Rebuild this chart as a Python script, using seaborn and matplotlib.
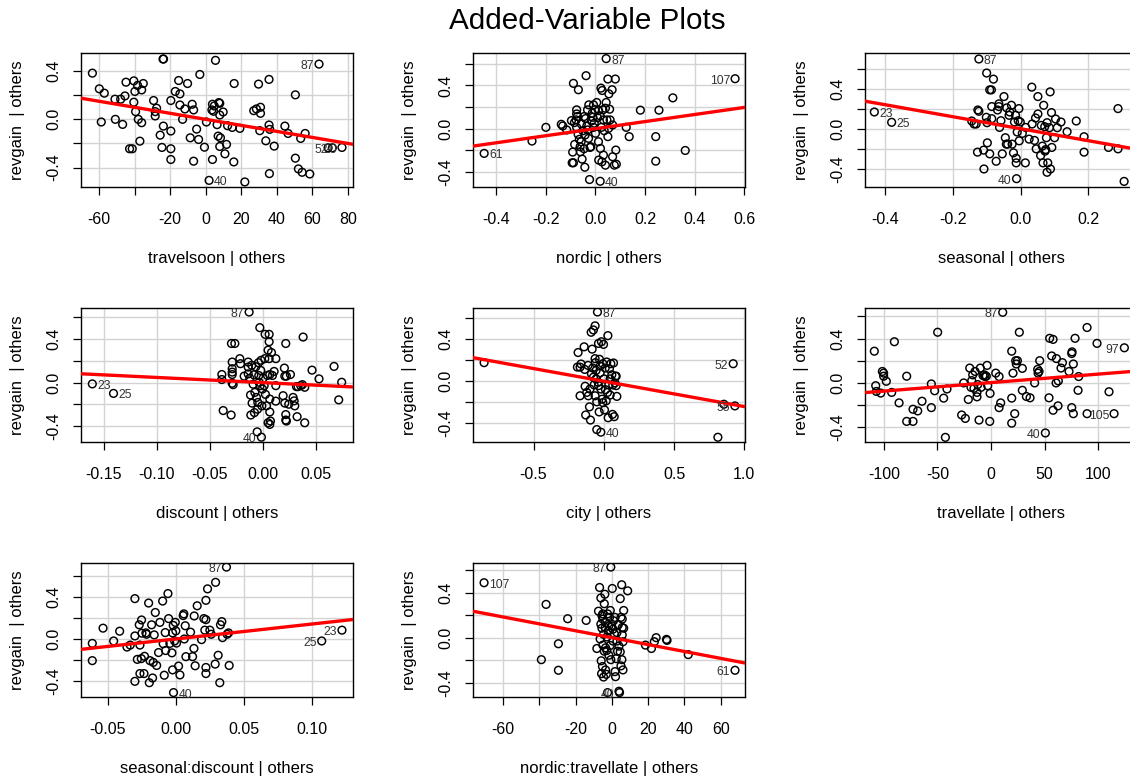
import matplotlib
matplotlib.use("Agg")
import matplotlib.pyplot as plt
import seaborn as sns
import pandas as pd
import numpy as np

# ---- residual pairs (x | others, revgain | others); labelled cases come first ----
travelsoon_ids = ["87", "40", "52", "20"]
travelsoon_pts = [
    (63.7, 0.458), (1.9, -0.506), (71.2, -0.236), (76.6, -0.233),
    (-63.7, 0.383), (-59.8, 0.253), (-57.0, 0.217), (-58.7, -0.022), (-51.0, 0.167), (-50.8, 0.0), (-47.8, 0.167), (-46.7, -0.042), (-45.4, 0.194), (-44.8, 0.308),
    (-42.8, -0.244), (-41.3, -0.244), (-40.4, 0.319), (-40.4, 0.142), (-39.8, 0.231), (-39.4, 0.064), (-38.3, 0.281), (-37.9, 0.0), (-37.0, -0.181), (-36.0, 0.244),
    (-36.0, -0.028), (-35.1, 0.297), (-29.3, 0.156), (-28.4, 0.064), (-28.4, 0.028), (-27.6, 0.092), (-25.6, -0.131), (-24.6, -0.233), (-23.8, -0.056), (-24.0, 0.5),
    (-23.7, 0.5), (-19.6, 0.156), (-19.6, -0.097), (-19.6, -0.244), (-19.6, -0.333), (-17.1, 0.231), (-15.2, 0.322), (-14.5, 0.211), (-14.5, 0.119), (-13.0, 0.0),
    (-11.7, 0.086), (-10.2, 0.297), (-8.7, -0.153), (-7.6, 0.125), (-6.8, 0.078), (-6.8, -0.347), (-5.1, -0.081), (-4.0, -0.167), (-3.3, 0.372), (-0.7, -0.231),
    (0.4, -0.022), (3.8, 0.125), (3.5, 0.078), (3.8, -0.333), (4.4, 0.067), (4.8, 0.111), (5.5, 0.489), (6.4, -0.044), (7.0, -0.139), (7.4, 0.139),
    (7.9, 0.133), (7.9, 0.036), (8.3, -0.153), (7.9, -0.225), (9.8, 0.061), (10.8, -0.286), (11.7, -0.208), (12.3, -0.053), (14.9, -0.067), (15.8, -0.353),
    (16.0, 0.297), (19.2, -0.075), (22.0, -0.519), (27.0, 0.072), (28.5, 0.086), (29.7, 0.292), (30.4, -0.094), (30.8, 0.1), (30.8, 0.05), (33.8, -0.178),
    (35.6, -0.047), (35.6, 0.331), (36.0, -0.083), (35.8, -0.45), (38.5, -0.222), (44.5, -0.056), (46.3, -0.117), (50.4, 0.203), (50.4, -0.322), (52.1, -0.411),
    (53.4, -0.158), (54.2, -0.439), (55.9, -0.117), (58.5, -0.453), (68.8, -0.236),
]
travelsoon_slope = -0.0025

nordic_ids = ["87", "107", "61", "40"]
nordic_pts = [
    (0.043, 0.648), (0.563, 0.462), (-0.449, -0.229), (0.019, -0.487),
    (-0.256, -0.115), (-0.200, 0.012), (-0.138, 0.040), (-0.132, 0.025), (-0.116, -0.012), (-0.097, 0.074), (-0.089, 0.419), (-0.069, 0.360), (-0.092, -0.217), (-0.094, -0.316),
    (-0.089, -0.316), (-0.084, -0.146), (-0.076, 0.174), (-0.076, 0.136), (-0.078, 0.081), (-0.076, 0.012), (-0.070, -0.053), (-0.065, -0.099), (-0.062, -0.167), (-0.061, -0.214),
    (-0.054, -0.282), (-0.043, -0.357), (-0.046, -0.186), (-0.051, -0.019), (-0.046, 0.112), (-0.038, 0.490), (-0.035, 0.025), (-0.032, 0.174), (-0.028, -0.090), (-0.024, -0.471),
    (-0.022, -0.174), (-0.019, -0.167), (-0.016, 0.071), (-0.013, 0.143), (-0.008, 0.220), (-0.005, 0.050), (0.0, -0.043), (0.005, 0.242), (0.008, 0.102), (0.012, 0.167),
    (0.012, -0.121), (0.013, -0.291), (0.020, -0.183), (0.022, 0.375), (0.026, -0.307), (0.027, 0.353), (0.030, 0.174), (0.032, -0.245), (0.035, -0.019), (0.040, -0.338),
    (0.043, 0.242), (0.046, 0.081), (0.050, 0.459), (0.050, -0.074), (0.053, 0.003), (0.054, 0.322), (0.057, 0.180), (0.067, 0.360), (0.069, 0.034), (0.069, -0.260),
    (0.076, -0.338), (0.080, 0.459), (0.082, -0.198), (0.084, -0.329), (0.124, 0.012), (0.136, -0.074), (0.181, 0.171), (0.243, -0.074), (0.243, -0.301), (0.256, 0.171),
    (0.312, 0.285), (0.362, -0.202),
    (-0.085, 0.056), (-0.073, 0.112), (-0.057, 0.043), (-0.040, 0.093), (-0.027, 0.220), (-0.011, 0.105), (-0.003, 0.174), (0.019, 0.118), (0.024, 0.012), (0.032, 0.081),
    (0.040, 0.189), (0.059, 0.081), (-0.042, -0.059), (-0.032, -0.012), (-0.058, -0.121), (-0.008, 0.012),
]
nordic_slope = 0.327

seasonal_ids = ["87", "23", "25", "40"]
seasonal_pts = [
    (-0.123, 0.696), (-0.431, 0.167), (-0.380, 0.064), (-0.012, -0.499),
    (-0.144, 0.077), (-0.137, 0.047), (-0.131, 0.047), (-0.126, 0.187), (-0.123, 0.174), (-0.127, -0.234), (-0.109, -0.214), (-0.108, -0.402), (-0.100, 0.556), (-0.101, 0.114),
    (-0.099, 0.060), (-0.098, -0.141), (-0.091, -0.251), (-0.091, 0.388), (-0.086, 0.388), (-0.085, 0.100), (-0.085, 0.221), (-0.080, 0.495), (-0.072, -0.325), (-0.068, 0.187),
    (-0.064, 0.221), (-0.064, 0.248), (-0.062, 0.013), (-0.058, 0.080), (-0.054, -0.251), (-0.049, 0.321), (-0.045, -0.090), (-0.042, -0.154), (-0.041, 0.208), (-0.038, -0.154),
    (-0.034, 0.134), (-0.032, 0.167), (-0.027, 0.234), (-0.025, -0.154), (-0.021, -0.241), (-0.018, 0.067), (-0.015, 0.134), (-0.013, -0.295), (-0.013, -0.341), (-0.010, -0.033),
    (-0.007, 0.080), (-0.005, 0.201), (-0.004, -0.121), (-0.001, 0.067), (0.005, -0.047), (0.014, -0.341), (0.015, 0.013), (0.025, -0.104), (0.034, 0.047), (0.033, 0.415),
    (0.041, -0.117), (0.044, 0.107), (0.046, -0.201), (0.051, 0.147), (0.051, 0.321), (0.059, -0.268), (0.061, 0.033), (0.064, -0.174), (0.066, -0.341), (0.068, 0.234),
    (0.071, 0.020), (0.072, -0.224), (0.074, -0.208), (0.076, -0.090), (0.078, 0.060), (0.078, -0.435), (0.080, -0.341), (0.085, 0.010), (0.088, -0.402), (0.087, 0.368),
    (0.092, -0.187), (0.091, 0.161), (0.100, -0.090), (0.103, 0.097), (0.108, 0.010), (0.119, 0.067), (0.137, -0.030), (0.164, 0.077), (0.187, -0.080), (0.187, -0.234),
    (0.259, -0.187), (0.287, 0.201), (0.287, -0.201), (0.305, -0.526),
]
seasonal_slope = -0.60

discount_ids = ["87", "23", "25", "40"]
discount_pts = [
    (-0.0129, 0.646), (-0.161, -0.012), (-0.141, -0.099), (-0.0013, -0.500),
    (-0.0387, 0.074), (-0.0387, 0.028), (-0.0374, -0.256), (-0.0299, -0.297), (-0.0296, 0.358), (-0.0264, 0.358), (-0.0289, 0.188), (-0.0289, 0.127), (-0.0289, 0.096), (-0.0289, 0.074),
    (-0.0289, -0.006), (-0.028, -0.019), (-0.0217, 0.219), (-0.0211, 0.173), (-0.0176, 0.059), (-0.0138, 0.188), (-0.0138, 0.142), (-0.0138, 0.080), (-0.0123, 0.040), (-0.0116, -0.114),
    (-0.0113, -0.297), (-0.0104, 0.158), (-0.0101, -0.188), (-0.0091, -0.015), (-0.0085, 0.071), (-0.0079, -0.275), (-0.0075, -0.090), (-0.0066, 0.145), (-0.0060, -0.136), (-0.0053, -0.451),
    (-0.0050, -0.244), (-0.0047, -0.182), (-0.0041, 0.182), (-0.0038, 0.065), (-0.0035, 0.003), (-0.0028, 0.503), (-0.0025, -0.028), (-0.0019, 0.111), (-0.0016, 0.204), (-0.0009, -0.213),
    (-0.0003, -0.059), (0.0003, 0.040), (0.0013, -0.028), (0.0019, 0.219), (0.0022, 0.442), (0.0025, -0.108), (0.0035, -0.213), (0.0044, 0.065), (0.005, 0.297), (0.005, -0.368),
    (0.006, 0.442), (0.006, 0.374), (0.006, 0.219), (0.0066, 0.074), (0.0066, -0.151), (0.0066, -0.269), (0.0066, -0.383), (0.0072, -0.352), (0.0082, 0.275), (0.0091, 0.065),
    (0.0107, 0.102), (0.0123, 0.219), (0.0123, -0.028), (0.0123, -0.170), (0.0192, -0.120), (0.0204, 0.133), (0.0208, 0.059), (0.0208, -0.188), (0.0217, 0.358), (0.0217, -0.293),
    (0.0217, -0.343), (0.0223, -0.352), (0.0223, 0.059), (0.0245, -0.198), (0.0261, 0.074), (0.0286, -0.136), (0.0296, -0.167), (0.0302, -0.213), (0.0318, -0.037), (0.0324, -0.312),
    (0.0333, -0.037), (0.0358, -0.028), (0.0374, -0.019), (0.0381, 0.417), (0.0396, -0.368), (0.0396, -0.043), (0.0465, 0.114), (0.0531, 0.034), (0.0673, 0.148), (0.0717, -0.158),
    (0.0745, 0.003),
]
discount_slope = -0.47

city_ids = ["87", "52", "55", "40"]
city_pts = [
    (-0.045, 0.656), (0.921, 0.166), (0.933, -0.234), (-0.021, -0.483),
    (-0.852, 0.176), (0.855, -0.218), (0.812, -0.531),
    (-0.183, 0.272), (-0.169, -0.138), (-0.169, 0.134), (-0.162, 0.163), (-0.140, 0.326), (-0.136, 0.112), (-0.133, -0.048), (-0.129, -0.320), (-0.121, -0.106), (-0.112, 0.150),
    (-0.110, -0.138), (-0.102, -0.243), (-0.095, -0.368), (-0.090, 0.464), (-0.083, 0.304), (-0.079, 0.125), (-0.074, 0.486), (-0.074, 0.038), (-0.069, -0.035), (-0.062, 0.525),
    (-0.062, 0.214), (-0.062, -0.138), (-0.055, 0.102), (-0.050, -0.458), (-0.050, -0.195), (-0.040, -0.010), (-0.038, 0.358), (-0.033, -0.291), (-0.031, 0.208), (-0.026, 0.080),
    (-0.021, -0.074), (-0.017, 0.374), (-0.012, -0.170), (-0.007, 0.166), (-0.002, 0.349), (0.002, 0.022), (0.005, -0.272), (0.010, 0.125), (0.017, -0.186), (0.021, 0.182),
    (0.029, 0.432), (0.031, -0.346), (0.036, -0.035), (0.040, 0.118), (0.045, -0.131), (0.050, 0.166), (0.057, 0.061), (0.062, -0.314), (0.064, -0.035), (0.069, 0.173),
    (0.074, -0.336), (0.079, -0.016), (0.083, 0.048), (0.088, -0.042), (0.088, 0.048), (0.093, -0.144), (-0.188, 0.134),
    (-0.098, -0.074), (-0.055, 0.022), (-0.026, 0.144), (0.012, -0.080), (0.045, 0.022), (-0.088, 0.070), (0.026, -0.106), (-0.038, -0.042), (-0.007, -0.202), (-0.060, 0.176),
]
city_slope = -0.24

travellate_ids = ["87", "97", "105", "40"]
travellate_pts = [
    (10.9, 0.638), (124.4, 0.316), (114.8, -0.282), (50.7, -0.457),
    (-108.9, 0.285), (-107.6, -0.028), (-107.0, -0.080), (-102.9, -0.095), (-101.4, 0.101), (-100.2, 0.086), (-100.2, 0.058), (-97.7, 0.012), (-92.7, -0.089), (-90.2, 0.371),
    (-85.8, -0.184), (-78.7, 0.058), (-78.7, -0.352), (-72.8, -0.352), (-72.8, -0.242), (-68.4, -0.257), (-64.4, -0.169), (-55.7, -0.227), (-55.7, -0.012), (-52.6, -0.074),
    (-49.8, 0.457), (-44.2, -0.141), (-42.6, -0.497), (-41.1, -0.058), (-27.4, -0.294), (-25.5, -0.003), (-24.0, -0.325), (-21.2, -0.153), (-19.9, 0.132), (-18.7, -0.043),
    (-18.0, 0.018), (-17.1, 0.070), (-15.9, -0.052), (-14.9, 0.101), (-13.1, -0.089), (-13.1, -0.129), (-12.4, -0.018), (-11.2, -0.340), (-10.0, 0.132), (-9.3, -0.043),
    (-7.5, 0.064), (-6.2, 0.070), (-5.6, 0.055), (-4.4, 0.058), (-3.7, 0.156), (-3.1, -0.028), (-1.2, -0.352), (-0.9, -0.098), (4.4, 0.086), (7.5, 0.055),
    (7.5, -0.227), (9.0, -0.184), (19.3, 0.285), (19.3, -0.141), (19.3, -0.368), (20.5, 0.086), (22.1, -0.282), (23.0, 0.199), (24.6, 0.199), (23.6, 0.169),
    (26.4, 0.457), (29.2, 0.129), (29.2, -0.070), (33.0, -0.126), (36.4, -0.138), (40.7, -0.003), (43.5, 0.120), (43.9, 0.086), (44.8, 0.101), (45.4, 0.199),
    (54.1, -0.138), (54.7, 0.402), (57.9, 0.392), (56.6, 0.242), (57.9, -0.251), (60.7, -0.003), (61.0, 0.218), (62.5, -0.211), (62.8, 0.015), (65.3, 0.132),
    (66.6, 0.181), (72.8, 0.101), (75.3, 0.264), (75.6, 0.279), (75.3, -0.227), (76.8, 0.169), (76.8, -0.282), (78.4, 0.402), (81.2, -0.070), (81.8, 0.055),
    (89.6, 0.500), (89.6, -0.282), (98.9, 0.356), (110.1, -0.083),
]
travellate_slope = 0.00077

seas_disc_ids = ["87", "25", "23", "40"]
seas_disc_pts = [
    (0.0374, 0.684), (0.1074, -0.019), (0.1223, 0.084), (-0.0015, -0.510),
    (-0.0612, -0.042), (-0.0612, -0.206), (-0.0533, 0.103), (-0.0455, -0.019), (-0.0411, 0.074), (-0.0357, -0.077), (-0.0333, -0.058), (-0.0299, 0.384), (-0.0299, -0.403), (-0.0299, 0.029),
    (-0.0281, -0.194), (-0.0267, 0.135), (-0.0262, -0.058), (-0.0252, -0.187), (-0.0250, 0.181), (-0.0247, 0.055), (-0.0262, -0.329), (-0.0232, -0.329), (-0.0228, -0.165), (-0.0218, 0.058),
    (-0.0213, 0.045), (-0.0198, 0.342), (-0.0193, -0.416), (-0.0188, -0.206), (-0.0176, 0.135), (-0.0169, -0.371), (-0.0164, -0.223), (-0.0157, 0.039), (-0.0149, 0.252), (-0.0139, -0.252),
    (-0.0125, -0.129), (-0.0115, 0.158), (-0.0095, 0.361), (-0.0091, -0.045), (-0.0083, -0.345), (-0.0076, 0.061), (-0.0073, -0.110), (-0.0056, 0.432), (-0.0051, 0.194), (-0.0042, -0.042),
    (-0.0027, -0.132), (-0.0022, 0.058), (-0.0022, -0.294), (-0.0017, 0.129), (-0.0007, -0.019), (-0.0002, 0.158), (0.0002, 0.077), (0.0007, -0.039), (0.0022, -0.258), (0.0032, -0.342),
    (0.0056, 0.223), (0.0061, 0.239), (0.0064, 0.0), (0.0071, 0.126), (0.0076, -0.168), (0.0110, 0.065), (0.0125, -0.168), (0.0135, -0.090), (0.0137, 0.219), (0.0144, -0.255),
    (0.0159, 0.316), (0.0191, -0.006), (0.0208, 0.194), (0.0215, 0.084), (0.0223, 0.368), (0.0223, -0.271), (0.0223, -0.329), (0.0235, 0.477), (0.0223, 0.184), (0.0252, 0.084),
    (0.0262, 0.045), (0.0291, -0.239), (0.0294, 0.539), (0.0313, -0.155), (0.0325, -0.416), (0.0330, 0.135), (0.0340, 0.165), (0.0345, 0.013), (0.0379, 0.045), (0.0389, 0.058),
    (0.0394, -0.252),
]
seas_disc_slope = 1.42

nord_late_ids = ["87", "107", "61", "40"]
nord_late_pts = [
    (-0.6, 0.626), (-70.5, 0.487), (67.9, -0.289), (4.2, -0.487),
    (-36.3, 0.295), (-38.9, -0.195), (-29.5, -0.054), (-29.5, -0.289), (-24.4, 0.168), (-14.2, 0.153), (-8.3, -0.096), (-7.4, 0.235), (-6.8, 0.445), (-6.5, -0.012),
    (-6.1, 0.352), (-6.1, 0.120), (-5.9, -0.205), (-5.7, -0.319), (-5.5, 0.084), (-5.2, -0.256), (-5.0, 0.211), (-5.0, 0.165), (-4.6, -0.349), (-4.2, 0.301),
    (-4.2, -0.120), (-3.9, 0.385), (-3.7, 0.090), (-3.5, -0.286), (-3.1, -0.325), (-2.8, -0.114), (-2.4, -0.487), (-2.4, 0.211), (-2.0, 0.060), (-1.7, -0.156),
    (-1.3, 0.180), (-0.9, -0.069), (-0.6, -0.195), (-0.2, 0.105), (0.2, 0.436), (0.6, -0.030), (0.9, 0.150), (1.3, 0.036), (1.7, -0.301), (2.0, -0.346),
    (2.4, -0.186), (2.8, -0.030), (3.1, -0.120), (3.5, 0.114), (3.9, -0.475), (4.6, 0.346), (4.6, -0.126), (5.0, -0.250), (5.4, 0.469), (5.5, -0.195),
    (5.7, 0.165), (5.7, 0.090), (5.7, 0.024), (6.1, -0.036), (6.1, -0.286), (6.5, 0.241), (8.7, 0.415), (18.5, -0.066), (21.8, -0.096), (23.4, -0.036),
    (24.4, 0.0), (30.1, -0.015), (30.4, -0.024), (42.1, -0.150),
    (-5.5, 0.195), (-4.6, 0.030), (-3.5, 0.135), (-2.8, 0.006), (-1.7, 0.105), (-0.9, 0.241), (0.6, 0.075), (1.7, 0.180), (2.8, 0.045), (3.9, -0.075),
    (5.0, 0.180), (6.5, 0.084), (-5.0, -0.066), (-3.5, -0.090),
]
nord_late_slope = -0.00306

x_titles = ["travelsoon | others", "nordic | others", "seasonal | others",
            "discount | others", "city | others", "travellate | others",
            "seasonal:discount | others", "nordic:travellate | others"]
y_title = "revgain  | others"
main_title = "Added-Variable Plots"

# ---- panel setup: axis ranges and tick marks ----
panels = [
    dict(pts=travelsoon_pts, ids=travelsoon_ids, slope=travelsoon_slope,
         xlim=(-70.1, 82.8), ylim=(-0.561, 0.55),
         xticks=[-60, -40, -20, 0, 20, 40, 60, 80], xhide=[-40], fmt="{:.0f}"),
    dict(pts=nordic_pts, ids=nordic_ids, slope=nordic_slope,
         xlim=(-0.494, 0.603), ylim=(-0.54, 0.70),
         xticks=[-0.4, -0.2, 0.0, 0.2, 0.4, 0.6], xhide=[], fmt="{:.1f}"),
    dict(pts=seasonal_pts, ids=seasonal_ids, slope=seasonal_slope,
         xlim=(-0.4585, 0.343), ylim=(-0.582, 0.756),
         xticks=[-0.4, -0.2, 0.0, 0.2], xhide=[], fmt="{:.1f}"),
    dict(pts=discount_pts, ids=discount_ids, slope=discount_slope,
         xlim=(-0.1717, 0.0852), ylim=(-0.544, 0.683),
         xticks=[-0.15, -0.10, -0.05, 0.0, 0.05], xhide=[], fmt="{:.2f}"),
    dict(pts=city_pts, ids=city_ids, slope=city_slope,
         xlim=(-0.931, 1.005), ylim=(-0.576, 0.694),
         xticks=[-0.5, 0.0, 0.5, 1.0], xhide=[], fmt="{:.1f}"),
    dict(pts=travellate_pts, ids=travellate_ids, slope=travellate_slope,
         xlim=(-117.6, 136.2), ylim=(-0.539, 0.677),
         xticks=[-100, -50, 0, 50, 100], xhide=[], fmt="{:.0f}"),
    dict(pts=seas_disc_pts, ids=seas_disc_ids, slope=seas_disc_slope,
         xlim=(-0.0695, 0.1304), ylim=(-0.552, 0.723),
         xticks=[-0.05, 0.0, 0.05, 0.10], xhide=[], fmt="{:.2f}"),
    dict(pts=nord_late_pts, ids=nord_late_ids, slope=nord_late_slope,
         xlim=(-76.6, 73.4), ylim=(-0.526, 0.662),
         xticks=[-60, -40, -20, 0, 20, 40, 60], xhide=[-40], fmt="{:.0f}"),
]

sns.set_style("white")
plt.rcParams["font.family"] = ["Liberation Sans", "DejaVu Sans"]
plt.rcParams["text.color"] = "black"
plt.rcParams["axes.labelcolor"] = "black"

W, H = 1130, 778
fig = plt.figure(figsize=(W / 100, H / 100), dpi=100)

col_left = [81, 473, 865]
row_top = [53, 308, 563]
box_w, box_h = 272, 134

grid_col = "#d3d3d3"
tick_fs = 11.5
lab_fs = 12

for k, p in enumerate(panels):
    r, c = divmod(k, 3)
    left = col_left[c] / W
    bottom = (H - row_top[r] - box_h) / H
    ax = fig.add_axes([left, bottom, box_w / W, box_h / H])

    df = pd.DataFrame(p["pts"], columns=["x", "y"])
    sns.scatterplot(data=df, x="x", y="y", ax=ax, s=31, marker="o",
                    facecolor="none", edgecolor="black", linewidth=1.05,
                    zorder=3, legend=False)
    ax.axline((0, 0), slope=p["slope"], color="#ff0000", lw=2.4, zorder=4)

    # case labels beside the flagged points
    xmid = 0.5 * (p["xlim"][0] + p["xlim"][1])
    for i, name in enumerate(p["ids"]):
        px, py = df.x[i], df.y[i]
        if px > xmid:
            ax.annotate(name, (px, py), xytext=(-3.5, -1.5), textcoords="offset points",
                        ha="right", va="center", fontsize=8.8, color="#333333", zorder=5)
        else:
            ax.annotate(name, (px, py), xytext=(3.5, -1.5), textcoords="offset points",
                        ha="left", va="center", fontsize=8.8, color="#333333", zorder=5)

    ax.set_xlim(*p["xlim"])
    ax.set_ylim(*p["ylim"])

    ax.set_xticks(p["xticks"])
    ax.set_xticklabels(["" if t in p["xhide"] else p["fmt"].format(t) for t in p["xticks"]])
    yt = [v for v in [-0.6, -0.4, -0.2, 0.0, 0.2, 0.4, 0.6] if p["ylim"][0] <= v <= p["ylim"][1]]
    ax.set_yticks(yt)
    ax.set_yticklabels(["{:.1f}".format(v) if abs(v) in (0.0, 0.4) else "" for v in yt])

    ax.grid(True, color=grid_col, lw=1.0)
    ax.set_axisbelow(True)
    for sp in ax.spines.values():
        sp.set_visible(True)
        sp.set_color("black")
        sp.set_linewidth(1.0)

    ax.tick_params(axis="both", direction="out", length=6, width=0.9, color="black",
                   labelsize=tick_fs, labelcolor="black", bottom=True, left=True)
    ax.tick_params(axis="x", pad=12)
    ax.tick_params(axis="y", pad=8)
    for lbl in ax.get_yticklabels():
        lbl.set_rotation(90)
        lbl.set_va("center")

    ax.set_xlabel(x_titles[k], fontsize=lab_fs)
    ax.set_ylabel(y_title, fontsize=lab_fs)
    ax.xaxis.set_label_coords(0.5, -0.53)
    ax.xaxis.label.set_va("center")
    ax.yaxis.set_label_coords(-0.235, 0.5)
    ax.yaxis.label.set_va("center")

fig.text(587.5 / W, 1 - 21 / H, main_title, ha="center", va="center", fontsize=21.3)

fig.savefig("out.png", dpi=100)
